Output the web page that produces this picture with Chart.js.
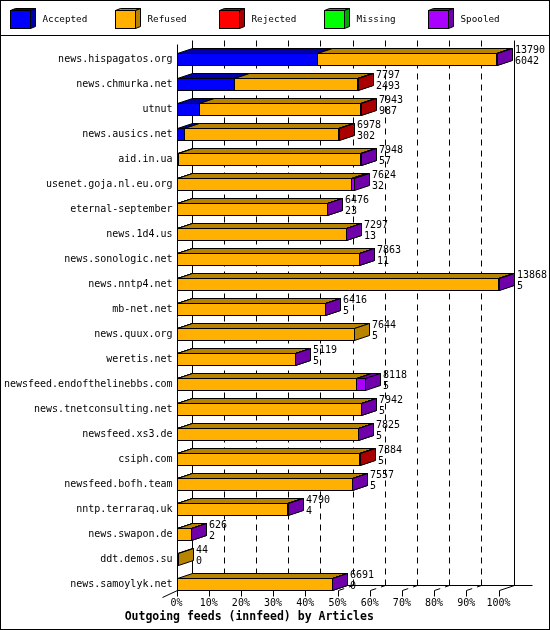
<!DOCTYPE html>
<html>
<head>
<meta charset="utf-8">
<title>Outgoing feeds (innfeed) by Articles</title>
<script src="https://cdn.jsdelivr.net/npm/chart.js@4.4.0/dist/chart.umd.min.js"></script>
<style>
  html, body { margin: 0; padding: 0; background: #fff; }
  #wrap { width: 550px; height: 630px; }
</style>
</head>
<body>
<div id="wrap"><canvas id="feedChart" width="550" height="630"></canvas></div>
<script>
// feeds, top to bottom
const feeds = [
  'news.hispagatos.org', 'news.chmurka.net', 'utnut', 'news.ausics.net',
  'aid.in.ua', 'usenet.goja.nl.eu.org', 'eternal-september', 'news.1d4.us',
  'news.sonologic.net', 'news.nntp4.net', 'mb-net.net', 'news.quux.org',
  'weretis.net', 'newsfeed.endofthelinebbs.com', 'news.tnetconsulting.net',
  'newsfeed.xs3.de', 'csiph.com', 'newsfeed.bofh.team', 'nntp.terraraq.uk',
  'news.swapon.de', 'ddt.demos.su', 'news.samoylyk.net'
];
// the two numbers printed next to each bar
const offered  = [13790, 7797, 7943, 6978, 7948, 7624, 6476, 7297, 7863, 13868, 6416, 7644, 5119, 8118, 7942, 7825, 7884, 7557, 4790, 626, 44, 6691];
const accepted = [6042, 2493, 987, 302, 57, 32, 23, 13, 11, 5, 5, 5, 5, 5, 5, 5, 5, 5, 4, 2, 0, 0];
// the other segments
const refused  = [7738, 5289, 6926, 6661, 7841, 7477, 6443, 7274, 7842, 13853, 6401, 7639, 5104, 7743, 7927, 7810, 7869, 7542, 4776, 614, 44, 6681];
const rejected = [0, 15, 30, 15, 40, 0, 0, 0, 0, 0, 0, 0, 0, 0, 0, 0, 10, 0, 0, 0, 0, 0];
const missing  = [0, 0, 0, 0, 0, 0, 0, 0, 0, 0, 0, 0, 0, 0, 0, 0, 0, 0, 0, 0, 0, 0];
const spooled  = [10, 0, 0, 0, 10, 115, 10, 10, 10, 10, 10, 0, 10, 370, 10, 10, 0, 10, 10, 10, 0, 10];

const tickPercents = [0, 10, 20, 30, 40, 50, 60, 70, 80, 90, 100];
const seriesNames = ['Accepted', 'Refused', 'Rejected', 'Missing', 'Spooled'];
const seriesData = [accepted, refused, rejected, missing, spooled];

const frontColors = ['#0000ff', '#ffb000', '#ff0000', '#00ff00', '#aa00ff'];
const darkColors  = ['#0000aa', '#b88400', '#aa0000', '#00aa00', '#7000aa'];

const maxTotal = Math.max(...offered);
const mono = 'DejaVu Sans Mono';
const DX = 15;      // depth of the 3d bars
const DY = 5;
const HALF_BAR = 6;

function px(v) { return Math.round(v) + 0.5; }

function line(ctx, x1, y1, x2, y2) {
  ctx.beginPath();
  ctx.moveTo(x1, y1);
  ctx.lineTo(x2, y2);
  ctx.stroke();
}

function poly(ctx, pts, fill) {
  ctx.beginPath();
  ctx.moveTo(pts[0][0], pts[0][1]);
  for (let i = 1; i < pts.length; i++) ctx.lineTo(pts[i][0], pts[i][1]);
  ctx.closePath();
  ctx.fillStyle = fill;
  ctx.fill();
  ctx.stroke();
}

// one box: front, top and right side
function box3d(ctx, x0, x1, top, bot, dx, dy, front, dark) {
  ctx.fillStyle = front;
  ctx.fillRect(x0, top, x1 - x0, bot - top);
  ctx.strokeRect(x0, top, x1 - x0, bot - top);
  poly(ctx, [[x0, top], [x0 + dx, top - dy], [x1 + dx, top - dy], [x1, top]], dark);
  poly(ctx, [[x1, top], [x1 + dx, top - dy], [x1 + dx, bot - dy], [x1, bot]], dark);
}

const bars3d = {
  id: 'bars3d',
  beforeDatasetDraw() {
    return false; // flat bars off, drawn below in 3d
  },
  beforeDatasetsDraw(chart) {
    const { ctx, chartArea, scales: { x, y } } = chart;
    const frontBase = px(y.getPixelForValue(feeds.length - 1) + HALF_BAR);
    const backBase = frontBase - DY;
    const backTop = px(chartArea.top - 7);
    const x0 = px(x.getPixelForValue(0));
    const x100 = px(x.getPixelForValue(maxTotal));

    ctx.save();
    ctx.strokeStyle = '#000';
    ctx.lineWidth = 1;

    // back wall grid
    ctx.setLineDash([6, 5]);
    tickPercents.forEach(p => {
      if (p === 0 || p === 100) return;
      const xv = px(x.getPixelForValue(p * maxTotal / 100));
      line(ctx, xv + DX, backTop, xv + DX, backBase);
      line(ctx, xv, frontBase, xv + DX, backBase);
    });
    ctx.setLineDash([]);

    line(ctx, x0 + DX, backTop, x0 + DX, backBase);
    line(ctx, x100 + DX, backTop, x100 + DX, backBase);
    line(ctx, x0 + DX, backBase, x100 + DX + 18, backBase);
    line(ctx, x0, frontBase, x0 + DX, backBase);
    line(ctx, x100, frontBase, x100 + DX, backBase);

    // front axis
    line(ctx, x0, backTop + 4, x0, frontBase);
    line(ctx, x0, frontBase, x0 - 15, frontBase + 7);
    tickPercents.forEach(p => {
      const xv = px(x.getPixelForValue(p * maxTotal / 100));
      line(ctx, xv, frontBase, xv, frontBase + 6);
    });
    ctx.restore();
  },
  afterDatasetsDraw(chart) {
    const { ctx } = chart;
    ctx.save();
    ctx.strokeStyle = '#000';
    ctx.lineWidth = 1;
    for (let i = 0; i < feeds.length; i++) {
      let el;
      for (let k = 0; k < seriesData.length; k++) {
        el = chart.getDatasetMeta(k).data[i];
        if (!seriesData[k][i]) continue;
        const top = px(el.y - HALF_BAR);
        const bot = px(el.y + HALF_BAR);
        box3d(ctx, px(el.base), px(el.x), top, bot, DX, DY, frontColors[k], darkColors[k]);
      }
      // totals next to the bar
      const lx = Math.round(el.x) + DX + 3;
      ctx.fillStyle = '#000';
      ctx.font = '10px ' + mono;
      ctx.textAlign = 'left';
      ctx.textBaseline = 'middle';
      ctx.fillText(String(offered[i]), lx, el.y - 9);
      ctx.fillText(String(accepted[i]), lx, el.y + 2);
    }
    ctx.restore();
  },
  afterDraw(chart) {
    const { ctx, width, height } = chart;
    ctx.save();
    ctx.strokeStyle = '#000';
    ctx.lineWidth = 1;
    // legend strip
    seriesNames.forEach((name, k) => {
      const left = 10.5 + Math.round(k * 104.5);
      box3d(ctx, left, left + 20, 10.5, 28.5, 5, 2, frontColors[k], darkColors[k]);
      ctx.fillStyle = '#000';
      ctx.font = '9.3px ' + mono;
      ctx.textAlign = 'left';
      ctx.textBaseline = 'middle';
      ctx.fillText(name, left + 32, 20);
    });
    line(ctx, 0, 35.5, width, 35.5);
    ctx.strokeRect(0.5, 0.5, width - 1, height - 1);
    ctx.restore();
  }
};

const data = {
  labels: feeds,
  datasets: seriesNames.map((name, k) => ({
    label: name,
    data: seriesData[k],
    backgroundColor: frontColors[k],
    borderColor: '#000',
    borderWidth: 1,
    barThickness: 12
  }))
};

const config = {
  type: 'bar',
  data,
  options: {
    indexAxis: 'y',
    responsive: false,
    animation: false,
    layout: { padding: { top: 46.5, right: 51.5, bottom: 0, left: 0 } },
    scales: {
      x: {
        type: 'linear',
        stacked: true,
        min: 0,
        max: maxTotal,
        afterBuildTicks(scale) {
          scale.ticks = tickPercents.map(p => ({ value: p * maxTotal / 100 }));
        },
        afterFit(scale) { scale.height = 9.7; },
        grid: { display: false, drawTicks: false },
        border: { display: false },
        ticks: {
          autoSkip: false,
          maxRotation: 0,
          padding: 1,
          color: '#000',
          font: { family: mono, size: 10 },
          callback: (v, i) => tickPercents[i] + '%'
        }
      },
      y: {
        stacked: true,
        afterFit(scale) { scale.width = 176.5; },
        grid: { display: false, drawTicks: false },
        border: { display: false },
        ticks: {
          autoSkip: false,
          padding: 4,
          color: '#000',
          font: { family: mono, size: 10 }
        }
      }
    },
    plugins: {
      legend: { display: false },
      tooltip: { enabled: false },
      title: {
        display: true,
        text: 'Outgoing feeds (innfeed) by Articles',
        position: 'bottom',
        color: '#000',
        font: { family: mono, size: 11.5, weight: 'bold', lineHeight: 1.2 },
        padding: { top: 4, bottom: 6 }
      }
    }
  },
  plugins: [bars3d]
};

const feedChart = new Chart(document.getElementById('feedChart'), config);
</script>
</body>
</html>
